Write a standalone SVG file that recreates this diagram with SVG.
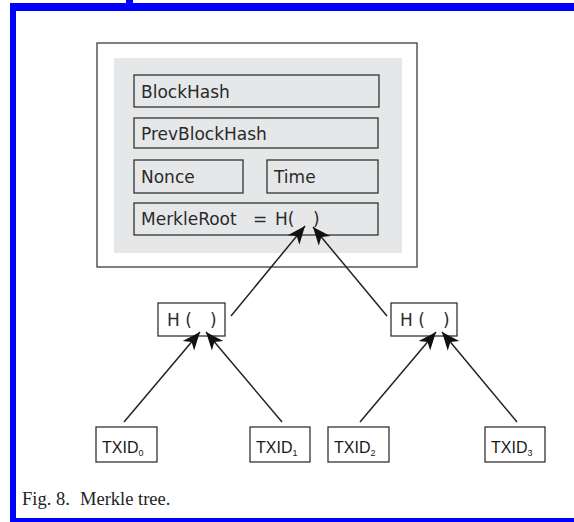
<svg xmlns="http://www.w3.org/2000/svg" width="574" height="522" viewBox="0 0 574 522">
<style>
.box{fill:#fff;stroke:#333;stroke-width:1.3}
.field{fill:none;stroke:#333;stroke-width:1.3}
.t{font-family:"DejaVu Sans",sans-serif;font-size:17px;fill:#2a2a2a}
.tx{font-family:"Liberation Sans",Arial,sans-serif;font-size:16px;fill:#1a1a1a}
.sub{font-size:9px}
.edge{stroke:#222;stroke-width:1.5;fill:none;marker-end:url(#ah)}
.cap{font-family:"Liberation Serif","Times New Roman",serif;font-size:18.5px;fill:#222}
</style>
<defs>
<marker id="ah" markerUnits="userSpaceOnUse" viewBox="-19 -9 20 18" refX="0" refY="0" markerWidth="20" markerHeight="18" orient="auto">
<path d="M0,0 L-18,-7.5 L-13,0 L-18,7.5 Z" fill="#111"/>
</marker>
</defs>
<rect x="0" y="0" width="574" height="522" fill="#fff"/>
<g id="frame" fill="#0000ff">
<rect x="10" y="3" width="564" height="8"/>
<rect x="10" y="3" width="6" height="519"/>
<rect x="126" y="0" width="7" height="4"/>
<rect x="10" y="518" width="564" height="4"/>
</g>
<g id="block">
<rect x="97" y="43" width="320" height="224" fill="#fff" stroke="#555" stroke-width="1.5"/>
<rect x="114" y="58" width="288" height="195" fill="#e6e7e8"/>
</g>
<g id="blockhash"><rect class="field" x="134" y="75" width="245" height="32"/><text class="t" x="141" y="97.5">BlockHash</text></g>
<g id="prevblockhash"><rect class="field" x="134" y="118" width="244" height="30"/><text class="t" x="141" y="139.5">PrevBlockHash</text></g>
<g id="nonce"><rect class="field" x="134" y="160" width="109" height="33"/><text class="t" x="141" y="183">Nonce</text></g>
<g id="time"><rect class="field" x="267" y="160" width="111" height="33"/><text class="t" x="274" y="183">Time</text></g>
<g id="merkleroot"><rect class="field" x="134" y="203" width="244" height="32"/><text class="t" x="141" y="225">MerkleRoot<tspan x="253">=</tspan><tspan x="275">H(</tspan><tspan x="313">)</tspan></text></g>
<g id="h01"><rect class="box" x="158" y="303" width="67" height="33"/><text class="t" x="167" y="326">H (<tspan x="210">)</tspan></text></g>
<g id="h23"><rect class="box" x="391" y="303" width="66" height="33"/><text class="t" x="400" y="326">H (<tspan x="443">)</tspan></text></g>
<g id="txid0"><rect class="box" x="96" y="427" width="61" height="35"/><text class="tx" x="102" y="453">TXID<tspan class="sub" dy="3">0</tspan></text></g>
<g id="txid1"><rect class="box" x="250" y="427" width="60" height="35"/><text class="tx" x="256" y="453">TXID<tspan class="sub" dy="3">1</tspan></text></g>
<g id="txid2"><rect class="box" x="328" y="427" width="61" height="35"/><text class="tx" x="334" y="453">TXID<tspan class="sub" dy="3">2</tspan></text></g>
<g id="txid3"><rect class="box" x="485" y="427" width="60" height="35"/><text class="tx" x="491" y="453">TXID<tspan class="sub" dy="3">3</tspan></text></g>
<g id="connectors">
<line class="edge" x1="231" y1="316" x2="305" y2="226"/>
<line class="edge" x1="387" y1="316" x2="313" y2="227"/>
<line class="edge" x1="124" y1="422" x2="200" y2="332"/>
<line class="edge" x1="282" y1="422" x2="206" y2="332"/>
<line class="edge" x1="360" y1="422" x2="436" y2="332"/>
<line class="edge" x1="517" y1="422" x2="442" y2="332"/>
</g>
<text class="cap" x="22" y="505">Fig. 8.<tspan x="80">Merkle tree.</tspan></text>
</svg>
